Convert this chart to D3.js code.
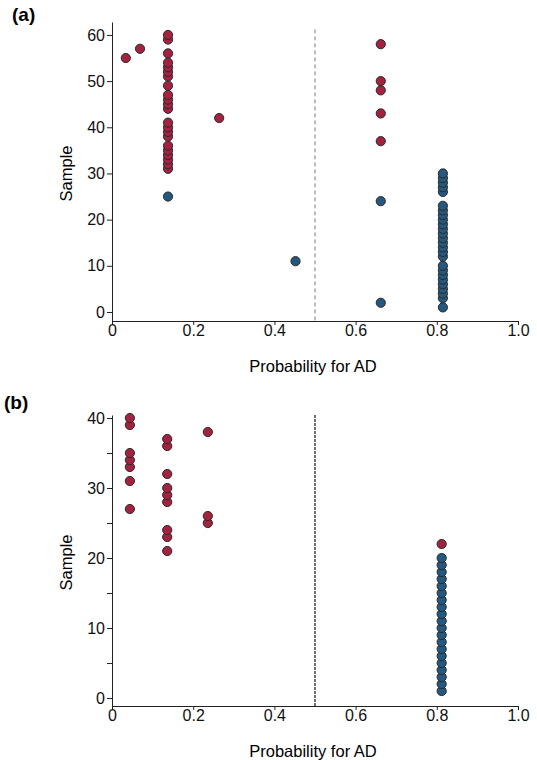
<html>
<script src='https://d3js.org/d3.v7.min.js'></script>
<style>
  body {margin: 0; background: white;}
  text {font-family: "Liberation Sans", Arial, Helvetica, sans-serif;}
</style>
<body onload='init()'>
<svg class="chart" width=537 height=760></svg>
<script>

// x axis ticks (shared by both panels)
var xTicks = [0, 0.2, 0.4, 0.6, 0.8, 1.0];
var xTickLabels = ["0", "0.2", "0.4", "0.6", "0.8", "1.0"];

// y ticks
var yTicksA = [0, 10, 20, 30, 40, 50, 60];
var yTicksB = [0, 5, 10, 15, 20, 25, 30, 35, 40];

// panel (a): sample number and probability for AD, red = AD, blue = control
var aRedSample = [55, 57,
  31, 32, 33, 34, 35, 36, 38, 39, 40, 41, 44, 45, 46, 47, 49, 51, 52, 53, 54, 56, 59, 60,
  42, 37, 43, 48, 50, 58];
var aRedProb = [0.034, 0.069,
  0.138, 0.138, 0.138, 0.138, 0.138, 0.138, 0.138, 0.138, 0.138, 0.138, 0.138,
  0.138, 0.138, 0.138, 0.138, 0.138, 0.138, 0.138, 0.138, 0.138, 0.138, 0.138,
  0.264, 0.662, 0.662, 0.662, 0.662, 0.662];
var aBlueSample = [25, 11, 2, 24,
  1, 3, 4, 5, 6, 7, 8, 9, 10, 12, 13, 14, 15, 16, 17, 18, 19, 20, 21, 22, 23, 26, 27, 28, 29, 30];
var aBlueProb = [0.138, 0.452, 0.662, 0.662,
  0.815, 0.815, 0.815, 0.815, 0.815, 0.815, 0.815, 0.815, 0.815, 0.815, 0.815, 0.815, 0.815,
  0.815, 0.815, 0.815, 0.815, 0.815, 0.815, 0.815, 0.815, 0.815, 0.815, 0.815, 0.815, 0.815];

// panel (b)
var bRedSample = [27, 31, 33, 34, 35, 39, 40,
  21, 23, 24, 28, 29, 30, 32, 36, 37,
  25, 26, 38, 22];
var bRedProb = [0.044, 0.044, 0.044, 0.044, 0.044, 0.044, 0.044,
  0.136, 0.136, 0.136, 0.136, 0.136, 0.136, 0.136, 0.136, 0.136,
  0.236, 0.236, 0.236, 0.812];
var bBlueSample = [1, 2, 3, 4, 5, 6, 7, 8, 9, 10, 11, 12, 13, 14, 15, 16, 17, 18, 19, 20];
var bBlueProb = [0.812, 0.812, 0.812, 0.812, 0.812, 0.812, 0.812, 0.812, 0.812, 0.812,
  0.812, 0.812, 0.812, 0.812, 0.812, 0.812, 0.812, 0.812, 0.812, 0.812];

var red = "#a3223f", blue = "#24587f";

function zip(s, p) {
  return s.map(function(d, i) { return {sample: d, prob: p[i]}; });
}

function drawPanel(svg, o) {
  var x = d3.scaleLinear().domain([0, 1]).range([112, 518]);
  var y = d3.scaleLinear().domain(o.yDomain).range([o.bottom, o.top]);

  // threshold line at 0.5
  svg.append("line")
    .attr("x1", x(0.5)).attr("x2", x(0.5))
    .attr("y1", y(o.dashTop)).attr("y2", o.bottom)
    .attr("stroke", o.dashColor)
    .attr("stroke-width", o.dashWidth)
    .attr("stroke-dasharray", o.dash);

  // y axis
  var ya = svg.append("g")
    .attr("transform", "translate(112,0)")
    .call(d3.axisLeft(y).tickValues(o.yTicks).tickSize(5).tickSizeOuter(0).tickPadding(2)
      .tickFormat(function(d) { return d % 10 == 0 ? d : ""; }));

  // x axis
  var xa = svg.append("g")
    .attr("transform", "translate(0," + o.bottom + ")")
    .call(d3.axisBottom(x).tickValues(xTicks).tickSize(4).tickSizeOuter(0).tickPadding(0)
      .tickFormat(function(d, i) { return xTickLabels[i]; }));

  [ya, xa].forEach(function(a) {
    a.selectAll("text").attr("font-size", 16).attr("fill", "#111")
      .attr("font-family", "Liberation Sans, Arial, sans-serif");
    a.selectAll("line").attr("stroke", "#222");
    a.select(".domain").attr("stroke", "#222");
  });
  xa.selectAll("text").attr("dy", "0.68em");

  // points
  var g = svg.append("g");
  g.selectAll("circle.red").data(zip(o.redS, o.redP)).enter()
    .append("circle")
      .attr("cx", function(d) { return x(d.prob); })
      .attr("cy", function(d) { return y(d.sample); })
      .attr("r", 4.6)
      .attr("fill", red)
      .attr("stroke", "#2a2a2a")
      .attr("stroke-width", 1);
  g.selectAll("circle.blue").data(zip(o.blueS, o.blueP)).enter()
    .append("circle")
      .attr("cx", function(d) { return x(d.prob); })
      .attr("cy", function(d) { return y(d.sample); })
      .attr("r", 4.6)
      .attr("fill", blue)
      .attr("stroke", "#2a2a2a")
      .attr("stroke-width", 1);

  // labels
  svg.append("text")
    .attr("x", 313).attr("y", o.bottom + 51)
    .attr("text-anchor", "middle").attr("font-size", 16.5)
    .text("Probability for AD");
  svg.append("text")
    .attr("transform", "translate(72," + ((o.top + o.bottom) / 2 + 2) + ") rotate(-90)")
    .attr("text-anchor", "middle").attr("font-size", 16.5)
    .text("Sample");
  svg.append("text")
    .attr("x", o.tagX).attr("y", o.tagY)
    .attr("font-size", 19).attr("font-weight", "bold")
    .text(o.tag);
}

function init() {
  var svg = d3.select(".chart");

  drawPanel(svg, {
    tag: "(a)", tagX: 12, tagY: 21,
    top: 22, bottom: 321, yDomain: [-1.95, 62.8], yTicks: yTicksA,
    dashTop: 61.2, dashColor: "#7a7a7a", dashWidth: 1, dash: "4,3",
    redS: aRedSample, redP: aRedProb, blueS: aBlueSample, blueP: aBlueProb
  });

  drawPanel(svg, {
    tag: "(b)", tagX: 4, tagY: 409,
    top: 415, bottom: 706, yDomain: [-1.14, 40.43], yTicks: yTicksB,
    dashTop: 40.43, dashColor: "#222", dashWidth: 1.3, dash: "3,1",
    redS: bRedSample, redP: bRedProb, blueS: bBlueSample, blueP: bBlueProb
  });
}
</script>
</body>
</html>
